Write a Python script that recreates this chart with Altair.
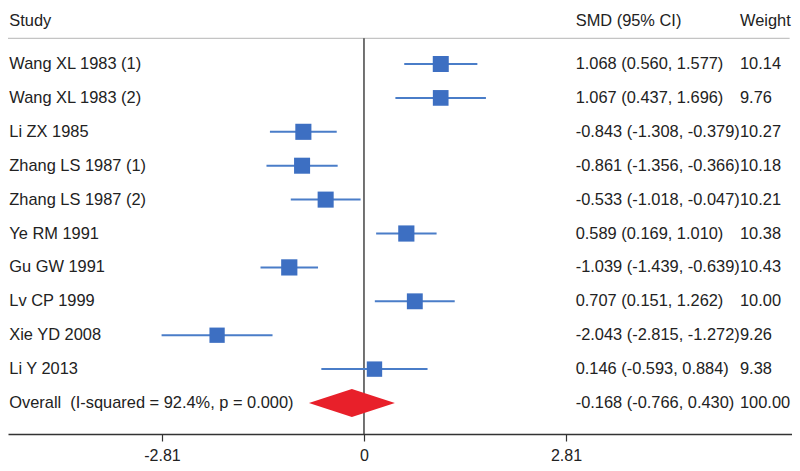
import altair as alt
import pandas as pd

studies = ["Wang XL 1983 (1)", "Wang XL 1983 (2)", "Li ZX 1985", "Zhang LS 1987 (1)",
           "Zhang LS 1987 (2)", "Ye RM 1991", "Gu GW 1991", "Lv CP 1999",
           "Xie YD 2008", "Li Y 2013"]
smd = [1.068, 1.067, -0.843, -0.861, -0.533, 0.589, -1.039, 0.707, -2.043, 0.146]
ci_lo = [0.560, 0.437, -1.308, -1.356, -1.018, 0.169, -1.439, 0.151, -2.815, -0.593]
ci_hi = [1.577, 1.696, -0.379, -0.366, -0.047, 1.010, -0.639, 1.262, -1.272, 0.884]
weights = [10.14, 9.76, 10.27, 10.18, 10.21, 10.38, 10.43, 10.00, 9.26, 9.38]

overall_label = "Overall\u00a0\u00a0(I-squared = 92.4%, p = 0.000)"
overall_est, overall_lo, overall_hi, overall_w = -0.168, -0.766, 0.430, 100.00

tick_values = [-2.81, 0, 2.81]
headers = ["Study", "SMD (95% CI)", "Weight"]

FONT = "Liberation Sans"
BLUE = "#3d6fc2"
LINE_BLUE = "#4a7dc8"
RED = "#e8202a"
TXT = "#222222"
FS = 16.4

rows = list(range(1, len(studies) + 1))
overall_row = len(studies) + 1


def ci_text(e, l, h):
    return f"{e:.3f} ({l:.3f}, {h:.3f})"


df = pd.DataFrame({
    "study": studies, "smd": smd, "lo": ci_lo, "hi": ci_hi,
    "weight": weights, "row": rows,
})

text_df = pd.DataFrame({
    "study": studies + [overall_label],
    "ci": [ci_text(e, l, h) for e, l, h in zip(smd, ci_lo, ci_hi)]
          + [ci_text(overall_est, overall_lo, overall_hi)],
    "wtxt": [f"{w:.2f}" for w in weights] + [f"{overall_w:.2f}"],
    "row": rows + [overall_row],
})

half_h = 0.41
diamond = pd.DataFrame({
    "x": [overall_lo, overall_est, overall_hi],
    "y": [overall_row, overall_row - half_h, overall_row],
    "y2": [overall_row, overall_row + half_h, overall_row],
})

header_y = -0.27
line_y = 0.242
y_top, y_bot = -0.652, 11.914

xs = alt.Scale(domain=[-4.951, 5.953], nice=False, zero=False)
ys = alt.Scale(domain=[y_top, y_bot], reverse=True, nice=False, zero=False)

x_axis = alt.Axis(
    values=tick_values, title=None, grid=False,
    labelExpr="datum.value < 0 ? '-' + format(-datum.value, '.2f') : (datum.value == 0 ? '0' : format(datum.value, '.2f'))",
    labelFont=FONT, labelFontSize=16, labelColor=TXT, labelPadding=6,
    tickSize=7, tickColor="#333333", tickWidth=1.2,
    domainColor="#333333", domainWidth=1.3,
)


def X(field):
    return alt.X(field, type="quantitative", scale=xs, axis=x_axis)


def Y(field):
    return alt.Y(field, type="quantitative", scale=ys, axis=None)


ci_rules = alt.Chart(df).mark_rule(color=LINE_BLUE, strokeWidth=2).encode(
    x=X("lo"), x2="hi", y=Y("row"),
)

squares = alt.Chart(df).mark_square(color=BLUE, opacity=1, filled=True).encode(
    x=X("smd"), y=Y("row"),
    size=alt.Size("weight:Q", scale=alt.Scale(domain=[0, 10.14], range=[0, 256]), legend=None),
)

diamond_layer = alt.Chart(diamond).mark_area(color=RED, orient="vertical", opacity=1).encode(
    x=X("x"), y=Y("y"), y2="y2",
)

zero_df = pd.DataFrame({"z": [0.0], "yt": [line_y], "yb": [y_bot]})
zero_line = alt.Chart(zero_df).mark_rule(color="#444444", strokeWidth=1.5).encode(
    x=X("z"), y=Y("yt"), y2="yb",
)

hl_df = pd.DataFrame({"h": [line_y], "xa": [-4.951], "xb": [5.92]})
header_line = alt.Chart(hl_df).mark_rule(color="#c4c4c4", strokeWidth=1.3).encode(
    x=X("xa"), x2="xb", y=Y("h"),
)

col_px = [1.3, 567.7, 732]

header_layers = []
for i, lab in enumerate(headers):
    hdf = pd.DataFrame({"label": [lab], "row": [header_y]})
    header_layers.append(
        alt.Chart(hdf).mark_text(
            align="left", baseline="middle", font=FONT, fontSize=FS, color=TXT
        ).encode(x=alt.value(col_px[i]), y=Y("row"), text="label:N")
    )

text_layers = []
for i, col in enumerate(["study", "ci", "wtxt"]):
    text_layers.append(
        alt.Chart(text_df).mark_text(
            align="left", baseline="middle", font=FONT, fontSize=FS, color=TXT
        ).encode(x=alt.value(col_px[i]), y=Y("row"), text=f"{col}:N")
    )

chart = alt.layer(
    header_line, zero_line, ci_rules, squares, diamond_layer,
    *text_layers, *header_layers,
).properties(
    width=784, height=426,
    autosize=alt.AutoSizeParams(type="none"),
    padding={"left": 0, "top": 0, "right": 0, "bottom": 29},
    background="white",
).configure_view(stroke=None)

chart.save("out.html", embed_options={"renderer": "svg", "actions": False})
